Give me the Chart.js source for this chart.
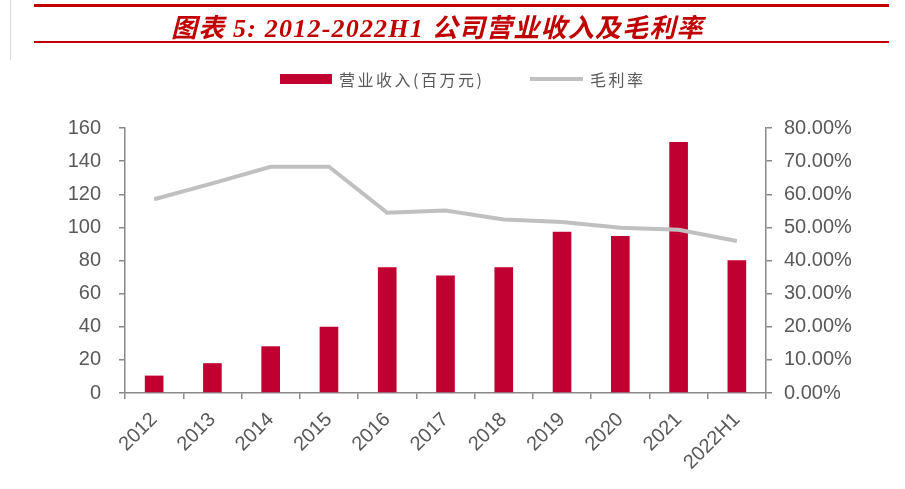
<!DOCTYPE html>
<html>
<head>
<meta charset="utf-8">
<script src="https://cdn.jsdelivr.net/npm/chart.js@4.4.0/dist/chart.umd.min.js"></script>
<style>
  body { margin: 0; background: #fff; }
  #page { position: relative; width: 905px; height: 489px; overflow: hidden; font-family: "Liberation Sans", Arial, sans-serif; }
  #page canvas { position: absolute; left: 0; top: 0; }
  .rule { position: absolute; left: 34px; width: 855px; background: #c00000; }
  #edge { position: absolute; left: 10px; top: 0; width: 1px; height: 60px; background: #dcdcdc; }
  #title { position: absolute; left: 171px; top: 7px; line-height: 34px; white-space: nowrap; color: #c00000; letter-spacing: 1.2px; font: italic bold 26px "Liberation Serif", "Noto Sans CJK SC", serif; }
  .legend { position: absolute; top: 67px; height: 24px; line-height: 24px; font: 16px "Noto Sans CJK SC", sans-serif; color: #595959; letter-spacing: 2.5px; white-space: nowrap; }
  .swatch { position: absolute; }
</style>
</head>
<body>
<div id="page">
  <canvas id="mainChart" width="905" height="489"></canvas>
  <div id="edge"></div>
  <div class="rule" style="top:4px;height:3px"></div>
  <div id="title">图表 5: 2012-2022H1 公司营业收入及毛利率</div>
  <div class="rule" style="top:41px;height:2px"></div>
  <div class="swatch" style="left:280px;top:74px;width:52px;height:10px;background:#c00030"></div>
  <div class="legend" style="left:339px">营业收入(百万元)</div>
  <div class="swatch" style="left:530px;top:77px;width:53px;height:4px;background:#c0c0c0"></div>
  <div class="legend" style="left:590px">毛利率</div>
</div>
<script>
// categories
const years = ['2012', '2013', '2014', '2015', '2016', '2017', '2018', '2019', '2020', '2021', '2022H1'];
// 营业收入 (百万元)
const revenue = [10.5, 18, 28.2, 40, 76, 71, 76, 97.4, 94.8, 151.6, 80.1];
// 毛利率 (%)
const grossMargin = [58.5, 63.3, 68.3, 68.3, 54.4, 55.1, 52.4, 51.6, 49.9, 49.3, 45.9];
// axis ranges
const revenueAxis = { min: 0, max: 160, step: 20 };
const marginAxis = { min: 0, max: 80, step: 10 };

const axisGray = '#898989';
const labelGray = '#595959';
const tickFont = { family: '"Liberation Sans", Arial, sans-serif', size: 20 };

const ctx = document.getElementById('mainChart').getContext('2d');
const mainChart = new Chart(ctx, {
  data: {
    labels: years,
    datasets: [{
      type: 'line',
      label: '毛利率',
      data: grossMargin,
      yAxisID: 'y1',
      borderColor: '#c0c0c0',
      borderWidth: 4,
      pointRadius: 0,
      tension: 0,
      fill: false,
      order: 0
    }, {
      type: 'bar',
      label: '营业收入(百万元)',
      data: revenue,
      yAxisID: 'y',
      backgroundColor: '#c00030',
      categoryPercentage: 1,
      barPercentage: 0.32,
      order: 1
    }]
  },
  options: {
    responsive: false,
    animation: false,
    layout: { padding: { top: 128, left: 0, right: 0, bottom: 0 } },
    plugins: {
      legend: { display: false },
      title: { display: false },
      tooltip: { enabled: false }
    },
    scales: {
      x: {
        offset: true,
        grid: { offset: true, drawOnChartArea: false, drawTicks: true, tickLength: 6, color: axisGray, lineWidth: 1.5 },
        border: { color: axisGray, width: 1.5 },
        ticks: { color: labelGray, font: tickFont, minRotation: 45, maxRotation: 45, padding: 9 },
        afterFit: function (scale) { scale.height = 96; }
      },
      y: {
        position: 'left',
        min: revenueAxis.min,
        max: revenueAxis.max,
        grid: { drawOnChartArea: false, drawTicks: true, tickLength: 6, color: axisGray, lineWidth: 1.5 },
        border: { color: axisGray, width: 1.5 },
        ticks: { stepSize: revenueAxis.step, color: labelGray, font: tickFont, padding: 18 },
        afterFit: function (scale) { scale.width = 125; }
      },
      y1: {
        position: 'right',
        min: marginAxis.min,
        max: marginAxis.max,
        grid: { drawOnChartArea: false, drawTicks: true, tickLength: 6, color: axisGray, lineWidth: 1.5 },
        border: { color: axisGray, width: 1.5 },
        ticks: {
          stepSize: marginAxis.step, color: labelGray, font: tickFont, padding: 12,
          callback: function (v) { return v.toFixed(2) + '%'; }
        },
        afterFit: function (scale) { scale.width = 139; }
      }
    }
  }
});
</script>
</body>
</html>
